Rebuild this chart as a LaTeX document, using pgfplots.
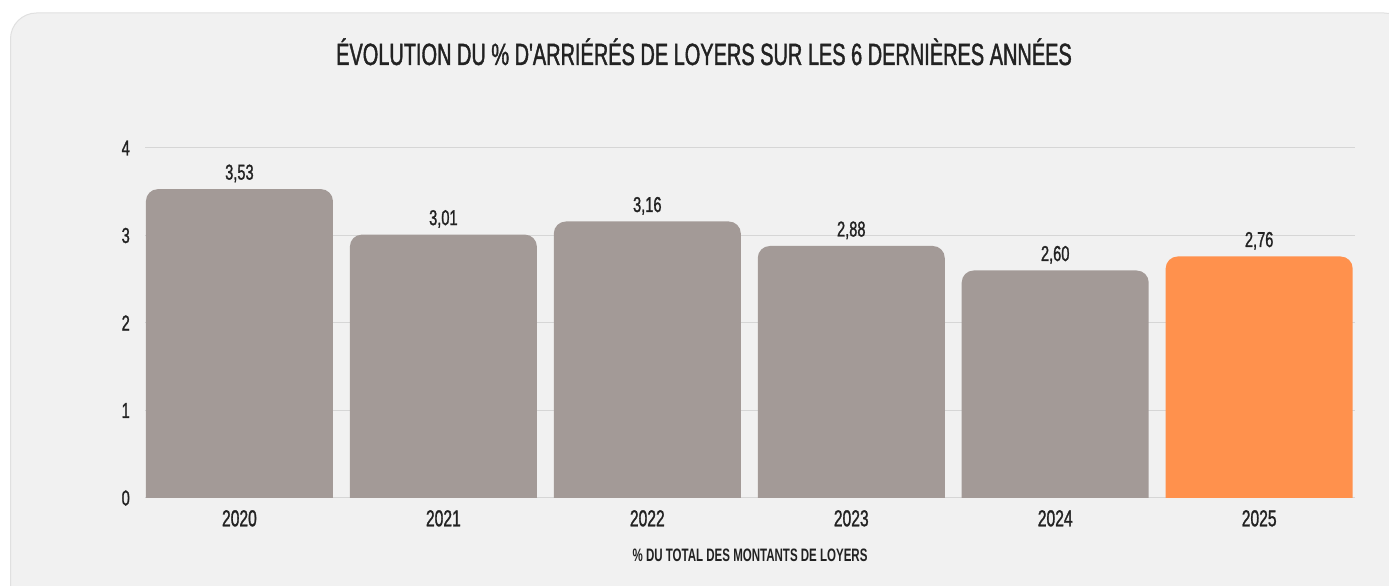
\documentclass[border=0pt]{standalone}
\usepackage{fontspec}
\setmainfont{Liberation Sans}[FakeStretch=0.68]
\newfontfamily\titlefont{Liberation Sans}[FakeStretch=0.65, FakeBold=1.3]
\newfontfamily\numfont{Liberation Sans}[FakeStretch=0.68, FakeBold=1.2]
\newfontfamily\labfont{Liberation Sans Bold}[FakeStretch=0.64]
\usepackage{pgfplots}
\pgfplotsset{compat=1.18}
\definecolor{panel}{HTML}{F1F1F1}
\definecolor{panelborder}{HTML}{E0E0E0}
\definecolor{bargray}{HTML}{A39A97}
\definecolor{barorange}{HTML}{FF914D}
\definecolor{gridc}{HTML}{D6D6D6}
\definecolor{txt}{HTML}{222222}
\pgfplotstableread{
x  y
0  3.53
1  3.01
2  3.16
3  2.88
4  2.60
}\graybars
\pgfplotstableread{
x  y
5  2.76
}\orangebars
\begin{document}
\begin{tikzpicture}
\path[use as bounding box] (0,0) rectangle (1389bp,586bp);
\fill[white] (0,0) rectangle (1389bp,586bp);
\filldraw[fill=panel, draw=panelborder, line width=1bp, rounded corners=26bp] (10.5bp,-40bp) rectangle (1410bp,573bp);
\node[anchor=base, text=txt, inner sep=0pt, font=\titlefont\fontsize{30.7bp}{32bp}\selectfont] at (704bp,521bp) {ÉVOLUTION DU \% D'ARRIÉRÉS DE LOYERS SUR LES 6 DERNIÈRES ANNÉES};
% axis with grid, ticks and labels
\begin{axis}[
  at={(145bp,88bp)}, anchor=south west,
  scale only axis, width=1210bp, height=350bp,
  xmin=-0.463, xmax=5.47, ymin=0, ymax=4,
  xtick={0,1,2,3,4,5},
  xticklabels={2020,2021,2022,2023,2024,2025},
  ytick={0,1,2,3,4},
  ymajorgrids, major grid style={gridc, line width=1bp},
  axis line style={draw=none},
  major tick length=0pt,
  tick style={draw=none},
  /pgf/number format/assume math mode=true,
  xticklabel style={anchor=north, inner sep=0pt, yshift=-12bp, text=txt, font=\numfont\fontsize{23bp}{25bp}\selectfont},
  yticklabel style={anchor=east, inner sep=0pt, xshift=-15bp, text=txt, font=\numfont\fontsize{21.5bp}{23bp}\selectfont},
  xlabel={\% DU TOTAL DES MONTANTS DE LOYERS},
  xlabel style={at={(axis description cs:0.5,0)}, anchor=base, inner sep=0pt, yshift=-63bp, text=txt, font=\labfont\fontsize{18bp}{20bp}\selectfont},
]
\end{axis}
% bars: same scale, the rounded feet fall below the clip line at y = 0
\begin{scope}
\clip (0,88bp) rectangle (1389bp,586bp);
\begin{axis}[
  at={(145bp,70.5bp)}, anchor=south west,
  scale only axis, width=1210bp, height=367.5bp,
  xmin=-0.463, xmax=5.47, ymin=0, ymax=4.2,
  hide axis,
  y filter/.expression={y+0.2},
  point meta=rawy,
  /pgf/number format/assume math mode=true,
  nodes near coords={\pgfmathprintnumber[fixed, fixed zerofill, precision=2, use comma, assume math mode=true]{\pgfplotspointmeta}},
  nodes near coords style={anchor=base, inner sep=0pt, yshift=9.5bp, text=txt, font=\numfont\fontsize{21.5bp}{23bp}\selectfont},
]
\addplot[ybar, bar width=187bp, bar shift=0pt, fill=bargray, draw=none, rounded corners=12bp] table[x=x, y=y] {\graybars};
\addplot[ybar, bar width=187bp, bar shift=0pt, fill=barorange, draw=none, rounded corners=12bp] table[x=x, y=y] {\orangebars};
\end{axis}
\end{scope}
\end{tikzpicture}
\end{document}
